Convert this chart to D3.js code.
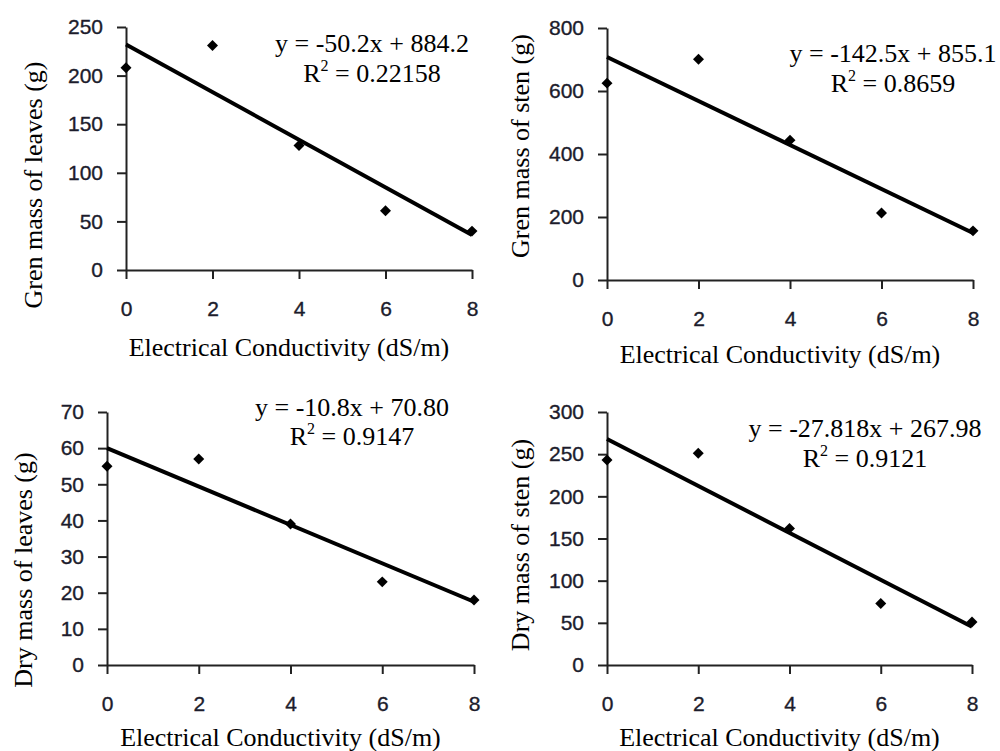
<!DOCTYPE html>
<html>
<head>
<meta charset="utf-8">
<script src="https://cdn.jsdelivr.net/npm/d3@7"></script>
<style>
  html, body { margin: 0; padding: 0; background: #fff; }
  svg { display: block; }
</style>
</head>
<body>
<svg id="chart" width="1000" height="751"></svg>
<script>
// Salinity levels (electrical conductivity of irrigation water, dS/m)
const ecLevels = [0, 2, 4, 6, 8];
const xTicks = [0, 2, 4, 6, 8];

// Measured biomass at each salinity level (g)
const greenLeaves = [208, 231, 128, 61, 40];
const greenStem = [625, 701, 444, 213, 156];
const dryLeaves = [55, 57, 39, 23, 18];
const dryStem = [243, 251, 162, 73, 51];

// Fitted trend line values at EC = 0 and EC = 8
const greenLeavesTrend = [232, 36];
const greenStemTrend = [708, 149];
const dryLeavesTrend = [60, 17.5];
const dryStemTrend = [267.98, 45.44];

// Y-axis tick labels per panel
const greenLeavesTicks = [0, 50, 100, 150, 200, 250];
const greenStemTicks = [0, 200, 400, 600, 800];
const dryLeavesTicks = [0, 10, 20, 30, 40, 50, 60, 70];
const dryStemTicks = [0, 50, 100, 150, 200, 250, 300];

// Axis titles and regression annotations
const xTitle = "Electrical Conductivity (dS/m)";
const yTitles = ["Gren mass of leaves (g)", "Gren mass of sten (g)", "Dry mass of leaves (g)", "Dry mass of sten (g)"];
const equations = ["y = -50.2x + 884.2", "y = -142.5x + 855.1", "y = -10.8x + 70.80", "y = -27.818x + 267.98"];
const r2Values = ["0.22158", "0.8659", "0.9147", "0.9121"];

const panels = [
  { values: greenLeaves, trend: greenLeavesTrend, ticks: greenLeavesTicks, yMax: 250,
    box: { x0: 126, x1: 472, yTop: 27, yBot: 270 },
    yTitle: { x: 33, y: 185 }, xTitleDy: 86, eq: { x: 372, y: 52, dy: 30 } },
  { values: greenStem, trend: greenStemTrend, ticks: greenStemTicks, yMax: 800,
    box: { x0: 607, x1: 973, yTop: 28, yBot: 280 },
    yTitle: { x: 520, y: 146 }, xTitleDy: 83, eq: { x: 893, y: 62, dy: 30 } },
  { values: dryLeaves, trend: dryLeavesTrend, ticks: dryLeavesTicks, yMax: 70,
    box: { x0: 107, x1: 474, yTop: 412, yBot: 665 },
    yTitle: { x: 23, y: 570 }, xTitleDy: 81, eq: { x: 352, y: 416, dy: 29 } },
  { values: dryStem, trend: dryStemTrend, ticks: dryStemTicks, yMax: 300,
    box: { x0: 607, x1: 972, yTop: 412, yBot: 665 },
    yTitle: { x: 520, y: 545 }, xTitleDy: 81, eq: { x: 865, y: 437, dy: 30 } }
];

const svg = d3.select("#chart");
const serif = "'Liberation Serif', 'Times New Roman', serif";
const sans = "'Liberation Sans', Arial, sans-serif";
const tickColor = "#1c1c2c";

panels.forEach((p, i) => {
  const x = d3.scaleLinear().domain([0, 8]).range([p.box.x0, p.box.x1]);
  const y = d3.scaleLinear().domain([0, p.yMax]).range([p.box.yBot, p.box.yTop]);
  const g = svg.append("g");

  // Axes
  const yAxis = d3.axisLeft(y).tickValues(p.ticks).tickSize(9).tickSizeOuter(0).tickPadding(14);
  const xAxis = d3.axisBottom(x).tickValues(xTicks).tickSize(9).tickSizeOuter(0).tickPadding(22);

  const gy = g.append("g").attr("transform", `translate(${p.box.x0},0)`).call(yAxis);
  const gx = g.append("g").attr("transform", `translate(0,${p.box.yBot})`).call(xAxis);

  [gx, gy].forEach(a => {
    a.select(".domain").attr("stroke", "#222").attr("stroke-width", 2);
    a.selectAll(".tick line").attr("stroke", "#222").attr("stroke-width", 2);
    a.selectAll(".tick text")
      .attr("fill", tickColor)
      .attr("stroke", tickColor)
      .attr("stroke-width", 0.35)
      .style("font-family", sans)
      .style("font-size", "21px");
  });

  // Trend line
  g.append("line")
    .attr("x1", x(ecLevels[0])).attr("y1", y(p.trend[0]))
    .attr("x2", x(ecLevels[ecLevels.length - 1])).attr("y2", y(p.trend[1]))
    .attr("stroke", "#000").attr("stroke-width", 4);

  // Observed points as diamonds
  const diamond = d3.symbol().type(d3.symbolSquare).size(60);
  g.selectAll("path.pt")
    .data(ecLevels.map((e, k) => ({ e, v: p.values[k] })))
    .join("path")
    .attr("class", "pt")
    .attr("d", diamond)
    .attr("transform", d => `translate(${x(d.e)},${y(d.v)}) rotate(45)`)
    .attr("fill", "#000");

  // Axis titles
  g.append("text")
    .attr("x", (p.box.x0 + p.box.x1) / 2 - 10)
    .attr("y", p.box.yBot + p.xTitleDy)
    .attr("text-anchor", "middle")
    .style("font-family", serif).style("font-size", "26px")
    .text(xTitle);

  g.append("text")
    .attr("transform", `translate(${p.yTitle.x},${p.yTitle.y}) rotate(-90)`)
    .attr("text-anchor", "middle")
    .attr("dominant-baseline", "central")
    .style("font-family", serif).style("font-size", "26px")
    .text(yTitles[i]);

  // Regression annotation
  g.append("text")
    .attr("x", p.eq.x).attr("y", p.eq.y)
    .attr("text-anchor", "middle")
    .style("font-family", serif).style("font-size", "26px")
    .text(equations[i]);

  const r2 = g.append("text")
    .attr("x", p.eq.x).attr("y", p.eq.y + p.eq.dy)
    .attr("text-anchor", "middle")
    .style("font-family", serif).style("font-size", "26px");
  r2.append("tspan").text("R");
  r2.append("tspan").attr("dy", -11).style("font-size", "16px").text("2");
  r2.append("tspan").attr("dy", 11).text(" = " + r2Values[i]);
});
</script>
</body>
</html>
